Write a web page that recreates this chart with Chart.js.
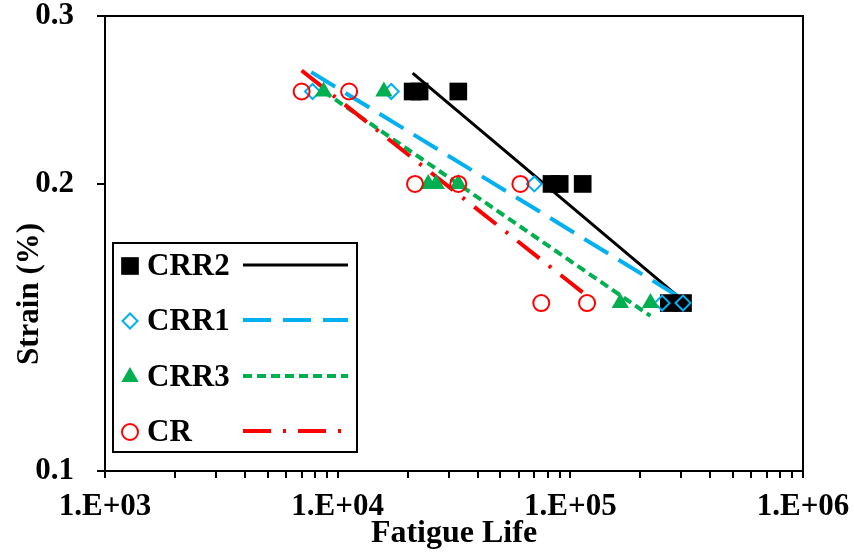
<!DOCTYPE html>
<html>
<head>
<meta charset="utf-8">
<script src="https://cdn.jsdelivr.net/npm/chart.js@4.4.0/dist/chart.umd.min.js"></script>
<style>
    html, body { margin: 0; padding: 0; background: #fff; }
    #wrap { width: 854px; height: 554px; }
</style>
</head>
<body>
<div id="wrap"><canvas id="fatigueChart" width="854" height="554"></canvas></div>
<script>
// ===== Data (fatigue life in cycles, strain in %) =====
const crr2Life   = [21000, 22500, 33000, 83000, 90000, 113000, 265000, 305000];
const crr2Strain = [0.25, 0.25, 0.25, 0.2, 0.2, 0.2, 0.15, 0.15];

const crr1Life   = [7800, 17000, 70000, 248000, 305000];
const crr1Strain = [0.25, 0.25, 0.2, 0.15, 0.15];

const crr3Life   = [8700, 15800, 24500, 26500, 33000, 164000, 221000];
const crr3Strain = [0.25, 0.25, 0.2, 0.2, 0.2, 0.15, 0.15];

const crLife     = [7000, 11200, 21500, 33000, 61000, 75000, 118000];
const crStrain   = [0.25, 0.25, 0.2, 0.2, 0.2, 0.15, 0.15];

// power trendlines, end points
const crr2FitLife = [21000, 305000];
const crr2FitStrain = [0.2614, 0.1509];
const crr1FitLife = [7700, 305000];
const crr1FitStrain = [0.262, 0.1514];
const crr3FitLife = [8700, 221000];
const crr3FitStrain = [0.250, 0.1454];
const crFitLife = [7000, 118000];
const crFitStrain = [0.263, 0.1526];

const seriesNames = ['CRR2', 'CRR1', 'CRR3', 'CR'];

const xMajorTicks = [1e3, 1e4, 1e5, 1e6];
const xTickLabels = ['1.E+03', '1.E+04', '1.E+05', '1.E+06'];
const xMinorSteps = [2, 3, 4, 5, 6, 7, 8, 9];
const yTicks = [0.1, 0.2, 0.3];
const yTickLabels = ['0.1', '0.2', '0.3'];

// ===== Styles =====
const FONT = "'Liberation Serif', 'Times New Roman', serif";
const seriesStyle = [
    { color: '#000000', pointStyle: 'rect',     radius: 12.5, fill: '#000000', border: 0, dash: [] },
    { color: '#00B0F0', pointStyle: 'rectRot',  radius: 7.5,  fill: 'rgba(0,0,0,0)', border: 2, dash: [28, 12] },
    { color: '#00B050', pointStyle: 'triangle', radius: 10,   fill: '#00B050', border: 0, dash: [9, 5] },
    { color: '#FF0000', pointStyle: 'circle',   radius: 8,    fill: 'rgba(0,0,0,0)', border: 2, dash: [28, 12, 3, 12] }
];
const lineWidths = [3, 4, 4, 4];

const toPoints = (xs, ys) => xs.map((x, i) => ({ x, y: ys[i] }));

const markerData = [
    toPoints(crr2Life, crr2Strain),
    toPoints(crr1Life, crr1Strain),
    toPoints(crr3Life, crr3Strain),
    toPoints(crLife, crStrain)
];
const fitData = [
    toPoints(crr2FitLife, crr2FitStrain),
    toPoints(crr1FitLife, crr1FitStrain),
    toPoints(crr3FitLife, crr3FitStrain),
    toPoints(crFitLife, crFitStrain)
];

const datasets = [];
seriesNames.forEach((name, i) => {
    const s = seriesStyle[i];
    datasets.push({
        label: name,
        data: markerData[i],
        showLine: false,
        pointStyle: s.pointStyle,
        pointRadius: s.radius,
        pointBackgroundColor: s.fill,
        pointBorderColor: s.color,
        pointBorderWidth: s.border,
        order: 3 - i
    });
});
seriesNames.forEach((name, i) => {
    const s = seriesStyle[i];
    datasets.push({
        label: name + ' fit',
        data: fitData[i],
        showLine: true,
        pointRadius: 0,
        borderColor: s.color,
        borderWidth: lineWidths[i],
        borderDash: s.dash,
        fill: false,
        order: 10 - i
    });
});

// ===== Frame, y title and legend =====
const legendBox = { left: 113, top: 243, right: 357, bottom: 452 };
const legendRowY = [266, 321, 377, 432];

const framePlugin = {
    id: 'frameAndLegend',
    afterDraw(chart) {
        const ctx = chart.ctx;
        const a = chart.chartArea;
        ctx.save();

        // top / right border of plot area
        ctx.strokeStyle = '#000';
        ctx.lineWidth = 2;
        ctx.beginPath();
        ctx.moveTo(a.left, a.top);
        ctx.lineTo(a.right, a.top);
        ctx.lineTo(a.right, a.bottom);
        ctx.stroke();

        // y axis title
        ctx.save();
        ctx.translate(30, 294);
        ctx.rotate(-Math.PI / 2);
        ctx.font = 'bold 31px ' + FONT;
        ctx.fillStyle = '#000';
        ctx.textAlign = 'center';
        ctx.textBaseline = 'middle';
        ctx.fillText('Strain (%)', 0, 0);
        ctx.restore();

        // legend
        ctx.fillStyle = '#fff';
        ctx.fillRect(legendBox.left, legendBox.top, legendBox.right - legendBox.left, legendBox.bottom - legendBox.top);
        ctx.strokeStyle = '#000';
        ctx.lineWidth = 2;
        ctx.strokeRect(legendBox.left, legendBox.top, legendBox.right - legendBox.left, legendBox.bottom - legendBox.top);

        seriesNames.forEach((name, i) => {
            const s = seriesStyle[i];
            const y = legendRowY[i];

            ctx.fillStyle = s.fill;
            ctx.strokeStyle = s.color;
            ctx.lineWidth = s.border;
            Chart.helpers.drawPoint(ctx, {
                pointStyle: s.pointStyle, radius: s.radius, rotation: 0, borderWidth: s.border
            }, 130, y);

            ctx.fillStyle = '#000';
            ctx.font = 'bold 31px ' + FONT;
            ctx.textAlign = 'left';
            ctx.textBaseline = 'middle';
            ctx.fillText(name, 147, y + 1);

            ctx.beginPath();
            ctx.setLineDash(s.dash);
            ctx.strokeStyle = s.color;
            ctx.lineWidth = lineWidths[i];
            ctx.moveTo(243, y - 1);
            ctx.lineTo(348, y - 1);
            ctx.stroke();
            ctx.setLineDash([]);
        });
        ctx.restore();
    }
};

// ===== Chart =====
const ctx = document.getElementById('fatigueChart').getContext('2d');
new Chart(ctx, {
    type: 'scatter',
    data: { datasets },
    options: {
        responsive: false,
        animation: false,
        layout: { padding: { top: 16, right: 51, left: 0, bottom: 0 } },
        plugins: {
            legend: { display: false },
            tooltip: { enabled: false }
        },
        scales: {
            x: {
                type: 'logarithmic',
                min: xMajorTicks[0],
                max: xMajorTicks[xMajorTicks.length - 1],
                afterBuildTicks: scale => {
                    const ticks = [];
                    xMajorTicks.forEach((t, i) => {
                        ticks.push({ value: t });
                        if (i < xMajorTicks.length - 1) {
                            xMinorSteps.forEach(m => ticks.push({ value: t * m }));
                        }
                    });
                    scale.ticks = ticks;
                },
                afterFit: scale => {
                    scale.height = 83;
                    scale.paddingLeft = 0;
                    scale.paddingRight = 0;
                },
                grid: { drawOnChartArea: false, color: '#000', lineWidth: 2, tickLength: 7 },
                border: { color: '#000', width: 2 },
                ticks: {
                    autoSkip: false,
                    maxRotation: 0,
                    padding: 10,
                    color: '#000',
                    font: { family: FONT, size: 31, weight: 'bold', lineHeight: 1.2 },
                    callback: value => {
                        const idx = xMajorTicks.findIndex(t => Math.abs(t - value) / t < 1e-9);
                        return idx >= 0 ? xTickLabels[idx] : '';
                    }
                },
                title: {
                    display: true,
                    text: 'Fatigue Life',
                    color: '#000',
                    font: { family: FONT, size: 32, weight: 'bold', lineHeight: 1.2 },
                    padding: { top: 0, bottom: 1 }
                }
            },
            y: {
                type: 'logarithmic',
                min: yTicks[0],
                max: yTicks[yTicks.length - 1],
                afterBuildTicks: scale => {
                    scale.ticks = yTicks.map(v => ({ value: v }));
                },
                afterFit: scale => {
                    scale.width = 105;
                    scale.paddingTop = 0;
                    scale.paddingBottom = 0;
                },
                grid: { drawOnChartArea: false, color: '#000', lineWidth: 2, tickLength: 8 },
                border: { color: '#000', width: 2 },
                ticks: {
                    autoSkip: false,
                    padding: 23,
                    color: '#000',
                    font: { family: FONT, size: 31, weight: 'bold', lineHeight: 1.0 },
                    callback: value => {
                        const idx = yTicks.findIndex(t => Math.abs(t - value) / t < 1e-9);
                        return idx >= 0 ? yTickLabels[idx] : '';
                    }
                }
            }
        }
    },
    plugins: [framePlugin]
});
</script>
</body>
</html>
